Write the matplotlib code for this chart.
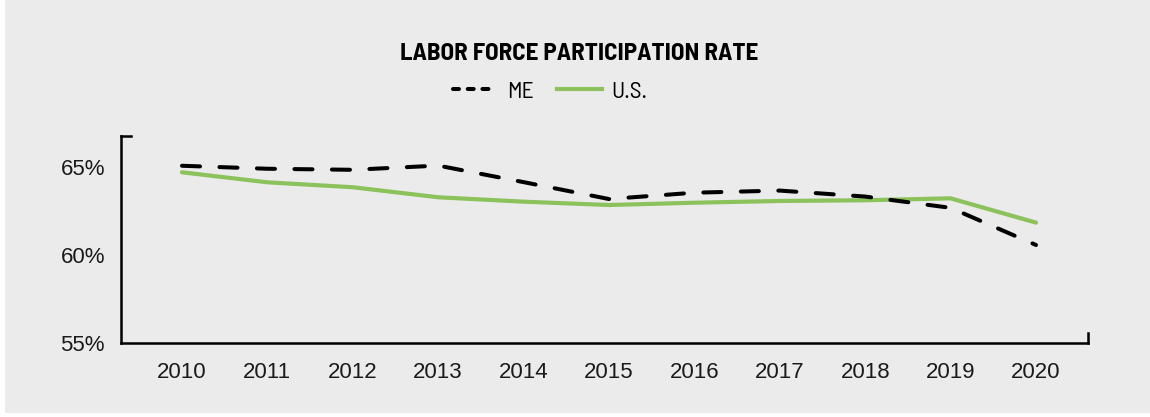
import matplotlib
matplotlib.use("Agg")
import matplotlib.pyplot as plt
from matplotlib.lines import Line2D
from matplotlib.patches import Rectangle
from matplotlib.ticker import FuncFormatter

# values (percent)
years = [2010, 2011, 2012, 2013, 2014, 2015, 2016, 2017, 2018, 2019, 2020]
me_rate = [65.05, 64.88, 64.82, 65.06, 64.12, 63.16, 63.52, 63.64, 63.30, 62.66, 60.55]
us_rate = [64.68, 64.11, 63.83, 63.26, 63.01, 62.82, 62.95, 63.05, 63.09, 63.20, 61.82]
y_ticks = [55, 60, 65]

plt.rcParams['lines.scale_dashes'] = False
green = '#8bc25c'
bg = '#ebebeb'
narrow = ['Barlow Semi Condensed', 'IBM Plex Sans Condensed', 'DejaVu Sans']
regular = ['Liberation Sans', 'Arimo', 'DejaVu Sans']

fig = plt.figure(figsize=(11.5, 4.17), dpi=100)
fig.patch.set_facecolor('white')
fig.patches.append(Rectangle((5 / 1150, 4 / 417), 1, 1, transform=fig.transFigure,
                             facecolor=bg, edgecolor='none', zorder=-10))

ax = fig.add_axes([121 / 1150, 1 - 342.7 / 417, (1088 - 121) / 1150, (342.7 - 136) / 417])
ax.set_facecolor('none')

xs = list(range(len(years)))
ax.plot(xs, us_rate, color=green, lw=3.0, solid_capstyle='round', zorder=3)
ax.plot(xs, me_rate, color='black', lw=2.9, dashes=(13, 14), dash_capstyle='round', zorder=4)

ax.set_xlim(-0.714, 10.609)
ax.set_ylim(55, 66.74)

ax.set_xticks(xs)
ax.set_xticklabels([str(y) for y in years])
ax.set_yticks(y_ticks)
ax.yaxis.set_major_formatter(FuncFormatter(lambda v, p: f"{v:.0f}%"))
ax.tick_params(axis='both', length=0, labelsize=16, colors='#1a1a1a')
ax.tick_params(axis='x', pad=14)
ax.tick_params(axis='y', pad=11.5)
for lab in ax.get_xticklabels() + ax.get_yticklabels():
    lab.set_family(regular)

for s in ['top', 'right']:
    ax.spines[s].set_visible(False)
for s in ['left', 'bottom']:
    ax.spines[s].set_linewidth(1.8)
    ax.spines[s].set_color('black')

# small end caps on the axes
ax.plot([0, 10 / 967], [1, 1], transform=ax.transAxes, color='black', lw=1.8,
        clip_on=False, solid_capstyle='projecting')
ax.plot([1, 1], [0, 10 / 206.7], transform=ax.transAxes, color='black', lw=1.8,
        clip_on=False, solid_capstyle='projecting')

fig.text(579 / 1150, 1 - 54 / 417, 'LABOR FORCE PARTICIPATION RATE', ha='center', va='center',
         family=narrow, weight='bold', fontsize=18, color='black')

handles = [Line2D([], [], color='black', lw=2.9, dashes=(4.3, 6.3), dash_capstyle='round'),
           Line2D([], [], color=green, lw=3.0)]
fig.legend(handles, ['ME', 'U.S.'], loc='center', bbox_to_anchor=(550 / 1150, 1 - 92 / 417),
           ncol=2, frameon=False, handlelength=1.9, handletextpad=0.4, columnspacing=1.0,
           prop={'family': narrow, 'size': 17})

fig.savefig('out.png', dpi=100, facecolor=fig.get_facecolor())
